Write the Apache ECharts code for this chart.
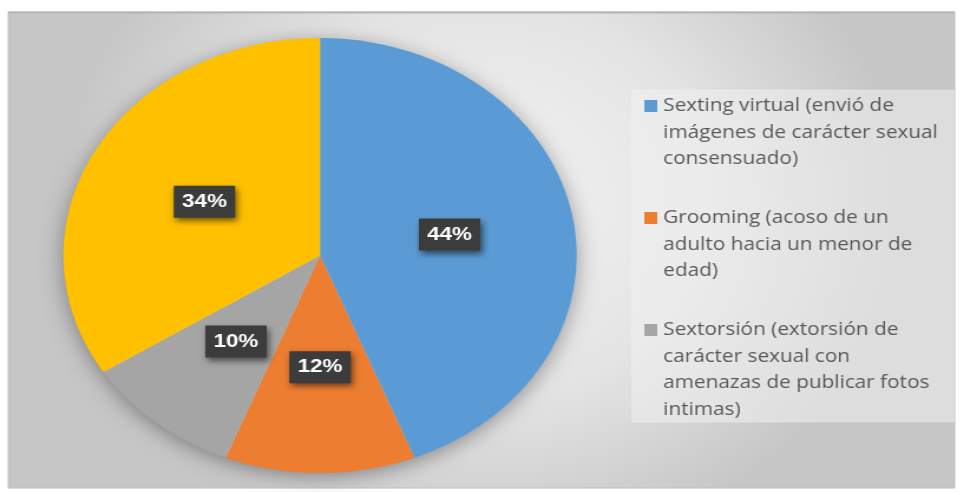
<!DOCTYPE html>
<html>
<head>
<meta charset="utf-8">
<script src="https://cdn.jsdelivr.net/npm/echarts@6/dist/echarts.min.js"></script>
<style>
  html, body { margin: 0; padding: 0; background: #ffffff; overflow: hidden; }
  #wrap { width: 959px; height: 492px; overflow: hidden; position: relative; }
  #chart { width: 812.7px; height: 492px; transform: scaleX(1.18); transform-origin: 0 0; }
</style>
</head>
<body>
<div id="wrap"><div id="chart"></div></div>
<script>
// ---- data ----
const categories = [
  'Sexting virtual (envió de imágenes de carácter sexual consensuado)',
  'Grooming (acoso de un adulto hacia un menor de edad)',
  'Sextorsión (extorsión de carácter sexual con amenazas de publicar fotos intimas)',
  'Otros'
];
const values = [44, 12, 10, 34];
const legendLines = [
  ['Sexting virtual (envió de', 'imágenes de carácter sexual', 'consensuado)'],
  ['Grooming (acoso de un', 'adulto hacia un menor de', 'edad)'],
  ['Sextorsión (extorsión de', 'carácter sexual con', 'amenazas de publicar fotos', 'intimas)']
];
const colors = ['#5B9BD5', '#ED7D31', '#A5A5A5', '#FFC000'];

// ---- layout (unscaled coordinates) ----
const CX = 271.2, CY = 255.5, R = 217.5;
const LH = 26.5;
const legendLeft = 546;
const firstLineCenters = [106, 218, 330];

const chart = echarts.init(document.getElementById('chart'), null, { renderer: 'canvas' });

const legends = legendLines.map((lines, i) => {
  const n = lines.length;
  const text = '\n'.repeat(n - 1) + lines.join('\n');
  return {
    orient: 'vertical',
    left: legendLeft,
    top: firstLineCenters[i] - (2 * n - 1) * LH / 2,
    padding: 0,
    itemWidth: 11,
    itemHeight: 12,
    itemGap: 0,
    icon: 'rect',
    selectedMode: false,
    data: [categories[i]],
    formatter: () => text,
    itemStyle: { shadowBlur: 0, shadowColor: 'transparent', borderWidth: 0 },
    textStyle: {
      color: '#595959',
      fontFamily: 'Open Sans',
      fontSize: 17.6,
      lineHeight: LH
    }
  };
});

chart.setOption({
  backgroundColor: '#ffffff',
  animation: false,
  color: colors,
  graphic: [
    {
      type: 'rect', z: -10,
      shape: { x: 7, y: 12, width: 802, height: 476 },
      style: {
        fill: {
          type: 'radial', x: 0.5, y: 0.4, r: 0.75,
          colorStops: [
            { offset: 0, color: '#f4f4f4' },
            { offset: 0.55, color: '#e4e4e4' },
            { offset: 1, color: '#c6c6c6' }
          ]
        },
        stroke: '#c0c0c0', lineWidth: 1
      }
    },
    {
      type: 'line', z: -9,
      shape: { x1: 7, y1: 12.5, x2: 809, y2: 12.5 },
      style: { stroke: '#b5b5b5', lineWidth: 2 }
    },
    {
      type: 'rect', z: -8,
      shape: { x: 535.6, y: 90, width: 273, height: 332 },
      style: { fill: 'rgba(240,240,240,0.55)', stroke: 'rgba(255,255,255,0.25)', lineWidth: 1 }
    },
    {
      type: 'circle', z: -7,
      shape: { cx: CX, cy: CY, r: R - 1 },
      style: { fill: '#d0d0d0', shadowBlur: 20, shadowColor: 'rgba(0,0,0,0.4)', shadowOffsetY: 4 }
    }
  ],
  legend: legends,
  series: [{
    type: 'pie',
    center: [CX, CY],
    radius: R,
    startAngle: 90,
    clockwise: true,
    percentPrecision: 0,
    silent: true,
    data: categories.map((name, i) => ({ name, value: values[i] })),
    itemStyle: { borderWidth: 0 },
    labelLine: { show: false },
    label: {
      show: true,
      position: 'inside',
      formatter: '{d}%',
      color: '#ffffff',
      fontFamily: 'Liberation Sans',
      fontWeight: 'bold',
      fontSize: 19,
      lineHeight: 20,
      backgroundColor: '#3c3c3c',
      padding: [6, 7, 6, 7],
      shadowBlur: 6,
      shadowColor: 'rgba(0,0,0,0.55)',
      shadowOffsetX: 2,
      shadowOffsetY: 3
    }
  }]
});
</script>
</body>
</html>
